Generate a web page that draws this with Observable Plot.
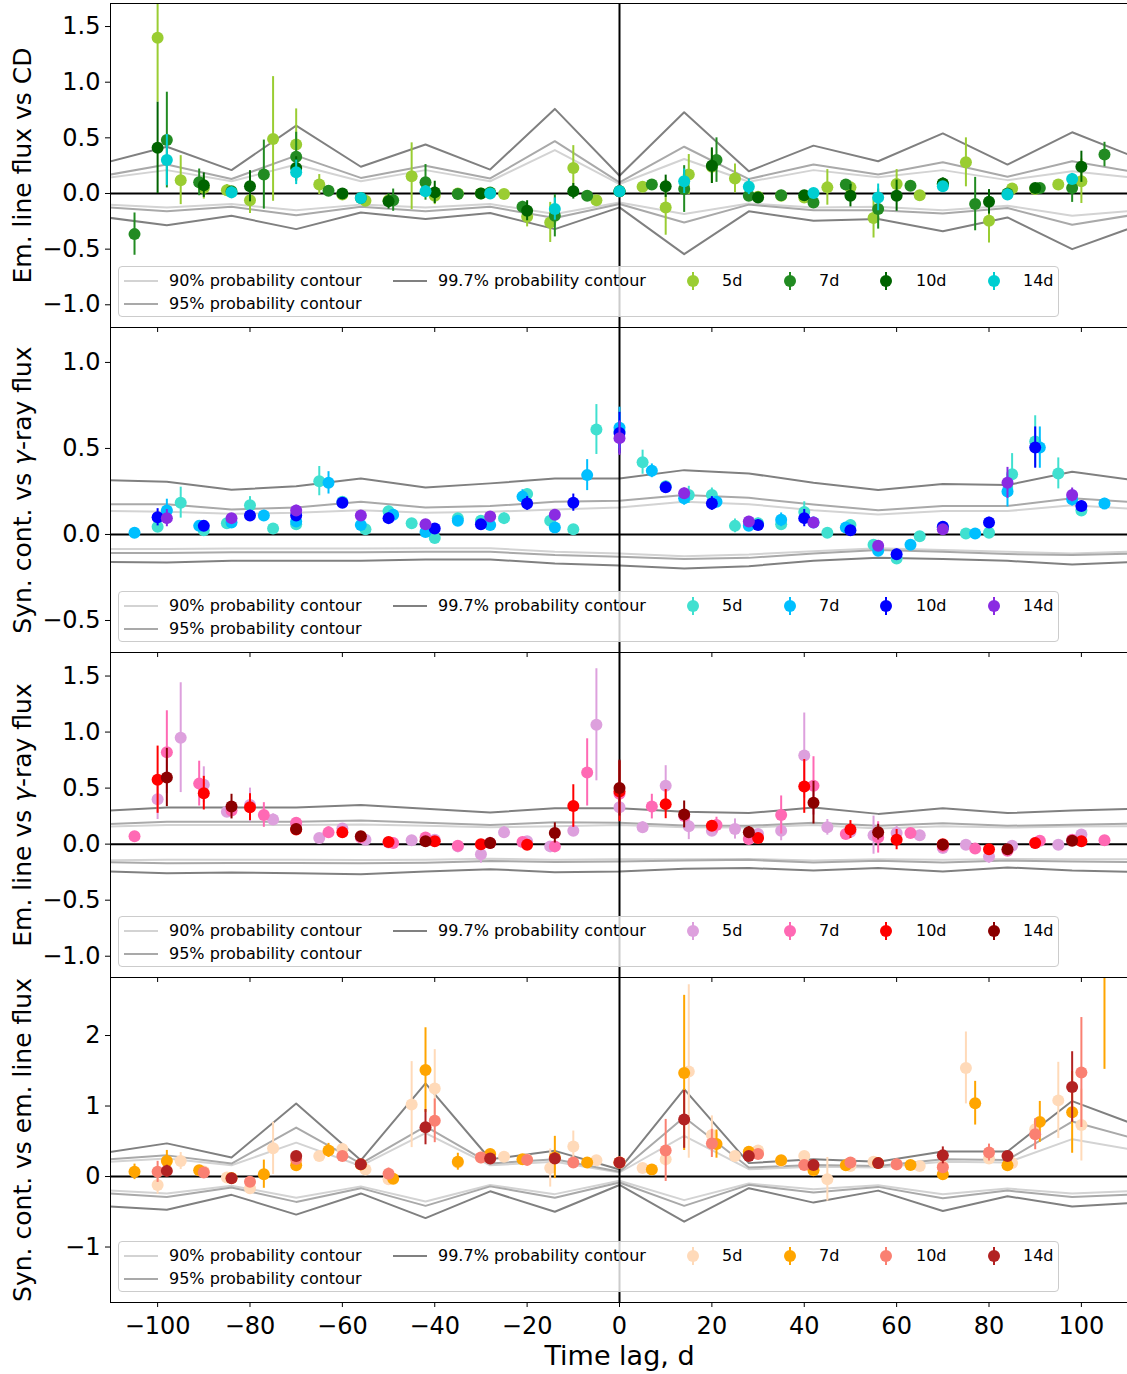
<!DOCTYPE html>
<html>
<head>
<meta charset="utf-8">
<script src="https://cdn.jsdelivr.net/npm/d3@7"></script>
<script src="https://cdn.jsdelivr.net/npm/@observablehq/plot@0.6"></script>
<style>
html, body { margin: 0; padding: 0; background: #fff; overflow: hidden; width: 1127px; height: 1374px; }
#chart { position: relative; width: 1131px; }
.panel { position: relative; width: 1131px; }
.panel > svg { display: block; }
.legend { position: absolute; left: 118px; width: 941px; height: 51px; border: 1px solid #cccccc; border-radius: 4px;
  background: rgba(255,255,255,0.8); box-sizing: border-box; font-family: "DejaVu Sans", sans-serif; font-size: 16px; color: #000; }
.legend svg { position: absolute; overflow: visible; }
.legend span { position: absolute; white-space: nowrap; transform: translateY(-50%); line-height: 1; }
</style>
</head>
<body>
<div id="chart"></div>
<script>
// ---------- categories / tick labels ----------
const lags5 = [-100,-95,-90,-85,-80,-75,-70,-65,-60,-55,-50,-45,-40,-35,-30,-25,-20,-15,-10,-5,0,5,10,15,20,25,30,35,40,45,50,55,60,65,70,75,80,85,90,95,100];
const lags7 = [-105,-98,-91,-84,-77,-70,-63,-56,-49,-42,-35,-28,-21,-14,-7,0,7,14,21,28,35,42,49,56,63,70,77,84,91,98,105];
const lags10 = [-100,-90,-80,-70,-60,-50,-40,-30,-20,-10,0,10,20,30,40,50,60,70,80,90,100];
const lags14 = [-98,-84,-70,-56,-42,-28,-14,0,14,28,42,56,70,84,98];
const contourLags = [-112,-98,-84,-70,-56,-42,-28,-14,0,14,28,42,56,70,84,98,112];
const seriesNames = ["5d","7d","10d","14d"];
const contourNames = ["90% probability contour","95% probability contour","99.7% probability contour"];
const xTicks = [-100,-80,-60,-40,-20,0,20,40,60,80,100];
const xLabel = "Time lag, d";

// ---------- panel 1: Em. line flux vs CD ----------
const p1Label = "Em. line flux vs CD";
const p1Ticks = [-1,-0.5,0,0.5,1,1.5];
const p1Colors = ["#9acd32","#228b22","#006400","#00ced1"];
const p1_5d  = [1.40,0.12,0.05,0.03,-0.06,0.49,0.44,0.08,-0.01,-0.065,-0.06,0.155,-0.02,0.0,0.0,-0.005,-0.21,-0.26,0.23,-0.06,0.02,0.06,-0.125,0.17,0.24,0.135,-0.03,-0.02,-0.035,0.055,0.055,-0.22,0.085,-0.015,0.08,0.28,-0.245,0.045,0.04,0.08,0.11];
const p1_5dE = [0.58,0.22,0.1,0.05,0.12,0.56,0.32,0.09,0.04,0.04,0.05,0.3,0.08,0.03,0.03,0.03,0.09,0.18,0.2,0.03,0.03,0.03,0.25,0.18,0.15,0.13,0.03,0.03,0.05,0.16,0.05,0.18,0.13,0.03,0.05,0.22,0.2,0.03,0.03,0.04,0.2];
const p1_7d  = [-0.365,0.48,0.10,0.02,0.17,0.33,0.025,-0.04,-0.06,0.10,-0.005,0.01,-0.12,-0.2,-0.02,0.02,0.08,0.04,0.30,-0.02,-0.015,-0.08,0.08,-0.14,0.07,0.085,-0.095,0.0,0.05,0.05,0.35];
const p1_7dE = [0.19,0.43,0.12,0.04,0.31,0.22,0.04,0.03,0.1,0.16,0.03,0.03,0.05,0.19,0.03,0.03,0.03,0.21,0.2,0.04,0.03,0.05,0.04,0.18,0.04,0.04,0.24,0.03,0.03,0.13,0.11];
const p1_10d  = [0.41,0.075,0.065,0.23,0.0,-0.07,0.01,0.0,-0.155,0.02,0.02,0.065,0.25,-0.035,-0.015,-0.02,-0.02,0.09,-0.075,0.05,0.24];
const p1_10dE = [0.41,0.11,0.14,0.1,0.03,0.07,0.1,0.03,0.09,0.07,0.04,0.1,0.16,0.03,0.04,0.1,0.14,0.05,0.11,0.03,0.14];
const p1_14d  = [0.30,0.01,0.19,-0.04,0.02,0.0,-0.14,0.02,0.11,0.06,0.005,-0.035,0.065,-0.01,0.13];
const p1_14dE = [0.23,0.05,0.11,0.04,0.05,0.03,0.1,0.04,0.11,0.07,0.04,0.12,0.04,0.05,0.05];
const p1_c90hi  = [0.135,0.21,0.11,0.26,0.11,0.21,0.11,0.39,0.085,0.31,0.105,0.21,0.145,0.21,0.12,0.20,0.14];
const p1_c95hi  = [0.157,0.26,0.13,0.34,0.14,0.25,0.135,0.47,0.10,0.42,0.13,0.26,0.17,0.28,0.15,0.29,0.19];
const p1_c997hi = [0.27,0.42,0.21,0.61,0.24,0.44,0.215,0.76,0.16,0.73,0.20,0.43,0.29,0.54,0.26,0.55,0.32];
const p1_c90lo  = [-0.097,-0.125,-0.095,-0.15,-0.10,-0.125,-0.095,-0.185,-0.08,-0.185,-0.09,-0.125,-0.12,-0.15,-0.11,-0.20,-0.153];
const p1_c95lo  = [-0.12,-0.16,-0.12,-0.195,-0.12,-0.16,-0.12,-0.22,-0.095,-0.26,-0.10,-0.15,-0.15,-0.18,-0.13,-0.28,-0.187];
const p1_c997lo = [-0.21,-0.285,-0.20,-0.32,-0.17,-0.23,-0.175,-0.32,-0.125,-0.545,-0.16,-0.245,-0.23,-0.34,-0.215,-0.50,-0.29];

// ---------- panel 2: Syn. cont. vs gamma-ray flux ----------
const p2Label = "Syn. cont. vs γ-ray flux";
const p2Ticks = [-0.5,0,0.5,1];
const p2Colors = ["#40e0d0","#00bfff","#0000ff","#8a2be2"];
const p2_5d  = [0.045,0.185,0.025,0.065,0.17,0.035,0.06,0.31,0.19,0.03,0.135,0.065,-0.02,0.095,0.08,0.095,0.235,0.08,0.03,0.61,0.60,0.42,0.28,0.23,0.23,0.05,0.065,0.06,0.13,0.01,0.055,-0.06,-0.14,-0.01,0.04,0.005,0.01,0.35,0.54,0.355,0.14];
const p2_5dE = [0.02,0.09,0.02,0.02,0.05,0.02,0.02,0.085,0.03,0.02,0.03,0.02,0.02,0.02,0.02,0.03,0.03,0.02,0.02,0.145,0.1,0.07,0.03,0.05,0.04,0.04,0.03,0.03,0.06,0.02,0.03,0.03,0.03,0.02,0.02,0.02,0.02,0.12,0.15,0.09,0.03];
const p2_7d  = [0.01,0.14,0.05,0.07,0.11,0.075,0.30,0.055,0.115,0.015,0.08,0.055,0.22,0.04,0.345,0.62,0.37,0.21,0.19,0.05,0.085,0.07,0.04,-0.095,-0.06,0.04,0.005,0.25,0.505,0.205,0.18];
const p2_7dE = [0.02,0.065,0.02,0.02,0.03,0.03,0.065,0.02,0.03,0.02,0.02,0.02,0.04,0.02,0.09,0.12,0.04,0.04,0.03,0.03,0.04,0.03,0.03,0.03,0.03,0.02,0.02,0.09,0.12,0.04,0.03];
const p2_10d  = [0.10,0.05,0.11,0.11,0.185,0.095,0.035,0.06,0.18,0.185,0.59,0.275,0.18,0.055,0.095,0.025,-0.115,0.045,0.07,0.505,0.165];
const p2_10dE = [0.05,0.02,0.03,0.03,0.03,0.03,0.02,0.02,0.04,0.05,0.12,0.03,0.04,0.03,0.05,0.02,0.03,0.02,0.03,0.12,0.03];
const p2_14d  = [0.095,0.095,0.14,0.11,0.06,0.105,0.115,0.56,0.24,0.075,0.07,-0.065,0.03,0.30,0.23];
const p2_14dE = [0.05,0.02,0.03,0.02,0.02,0.02,0.02,0.1,0.03,0.03,0.03,0.02,0.02,0.09,0.04];
const p2_c90hi  = [0.137,0.132,0.12,0.126,0.141,0.126,0.132,0.145,0.157,0.19,0.176,0.141,0.116,0.136,0.136,0.17,0.147];
const p2_c95hi  = [0.176,0.176,0.145,0.157,0.19,0.157,0.165,0.19,0.196,0.23,0.213,0.174,0.141,0.165,0.165,0.21,0.187];
const p2_c997hi = [0.317,0.306,0.26,0.28,0.325,0.273,0.297,0.325,0.325,0.374,0.355,0.30,0.258,0.293,0.287,0.364,0.313];
const p2_c90lo  = [-0.085,-0.085,-0.082,-0.082,-0.082,-0.08,-0.08,-0.10,-0.11,-0.126,-0.116,-0.097,-0.08,-0.09,-0.10,-0.11,-0.098];
const p2_c95lo  = [-0.107,-0.107,-0.103,-0.103,-0.103,-0.1,-0.1,-0.12,-0.13,-0.143,-0.136,-0.11,-0.09,-0.10,-0.114,-0.12,-0.11];
const p2_c997lo = [-0.16,-0.163,-0.153,-0.153,-0.153,-0.145,-0.145,-0.169,-0.18,-0.198,-0.184,-0.153,-0.136,-0.143,-0.153,-0.174,-0.16];

// ---------- panel 3: Em. line vs gamma-ray flux ----------
const p3Label = "Em. line vs γ-ray flux";
const p3Ticks = [-1,-0.5,0,0.5,1,1.5];
const p3Colors = ["#dda0dd","#ff69b4","#ff0000","#8b0000"];
const p3_5d  = [0.40,0.95,0.53,0.29,0.35,0.22,0.18,0.055,0.14,0.04,0.015,0.035,0.04,-0.02,-0.09,0.105,0.025,-0.02,0.12,1.065,0.33,0.15,0.52,0.16,0.12,0.135,0.09,0.12,0.79,0.15,0.11,0.08,0.10,0.08,-0.035,-0.005,-0.11,-0.015,0.01,-0.005,0.085];
const p3_5dE = [0.18,0.49,0.16,0.05,0.15,0.05,0.03,0.03,0.03,0.03,0.03,0.03,0.03,0.03,0.08,0.05,0.03,0.03,0.05,0.5,0.08,0.05,0.18,0.12,0.04,0.09,0.03,0.09,0.38,0.07,0.03,0.17,0.06,0.03,0.03,0.03,0.06,0.04,0.03,0.03,0.03];
const p3_7d  = [0.07,0.82,0.54,0.30,0.26,0.19,0.105,0.06,0.01,0.06,-0.015,0.01,0.02,-0.02,0.64,0.45,0.335,0.25,0.17,0.045,0.26,0.52,0.09,0.06,0.10,-0.02,-0.04,-0.06,0.03,0.04,0.035];
const p3_7dE = [0.03,0.37,0.2,0.04,0.11,0.03,0.05,0.03,0.03,0.03,0.03,0.03,0.03,0.03,0.3,0.1,0.11,0.05,0.07,0.03,0.17,0.26,0.03,0.14,0.03,0.03,0.03,0.03,0.03,0.03,0.03];
const p3_10d  = [0.575,0.455,0.33,0.13,0.105,0.02,0.025,0.0,-0.005,0.34,0.47,0.357,0.165,0.055,0.515,0.13,0.04,0.0,-0.045,0.01,0.025];
const p3_10dE = [0.3,0.15,0.12,0.03,0.03,0.03,0.03,0.03,0.03,0.19,0.27,0.13,0.04,0.03,0.24,0.08,0.09,0.03,0.04,0.03,0.03];
const p3_14d  = [0.595,0.335,0.135,0.07,0.025,0.01,0.10,0.50,0.265,0.107,0.37,0.107,-0.005,-0.045,0.03];
const p3_14dE = [0.26,0.11,0.04,0.03,0.03,0.05,0.09,0.25,0.12,0.05,0.19,0.07,0.03,0.03,0.03];
const p3_c90hi  = [0.155,0.17,0.17,0.17,0.175,0.165,0.15,0.16,0.17,0.15,0.148,0.17,0.14,0.16,0.148,0.157,0.16];
const p3_c95hi  = [0.177,0.20,0.20,0.20,0.21,0.19,0.17,0.195,0.19,0.167,0.164,0.19,0.164,0.187,0.164,0.173,0.183];
const p3_c997hi = [0.296,0.327,0.327,0.327,0.35,0.315,0.283,0.32,0.32,0.29,0.277,0.327,0.27,0.32,0.277,0.30,0.317];
const p3_c90lo  = [-0.145,-0.14,-0.14,-0.14,-0.142,-0.14,-0.13,-0.14,-0.134,-0.134,-0.132,-0.145,-0.134,-0.14,-0.132,-0.134,-0.134];
const p3_c95lo  = [-0.16,-0.17,-0.168,-0.168,-0.17,-0.165,-0.15,-0.16,-0.155,-0.146,-0.14,-0.164,-0.149,-0.164,-0.146,-0.155,-0.16];
const p3_c997lo = [-0.243,-0.26,-0.253,-0.26,-0.268,-0.245,-0.223,-0.25,-0.245,-0.22,-0.214,-0.235,-0.214,-0.245,-0.208,-0.235,-0.248];

// ---------- panel 4: Syn. cont. vs em. line flux ----------
const p4Label = "Syn. cont. vs em. line flux";
const p4Ticks = [-1,0,1,2];
const p4Colors = ["#ffdab9","#ffa500","#fa8072","#b22222"];
const p4_5d  = [-0.12,0.22,0.07,-0.015,-0.165,0.40,0.22,0.29,0.39,0.10,-0.04,1.02,1.25,0.2,0.27,0.28,0.24,0.12,0.425,0.23,0.2,0.12,0.245,1.49,0.59,0.29,0.37,0.22,0.29,-0.04,0.15,0.21,0.17,0.15,0.15,1.54,0.255,0.19,0.67,1.08,0.73];
const p4_5dE = [0.13,0.12,0.05,0.05,0.05,0.37,0.05,0.05,0.05,0.05,0.05,0.61,0.55,0.05,0.05,0.05,0.05,0.27,0.22,0.05,0.05,0.05,0.1,1.23,0.27,0.05,0.05,0.05,0.05,0.31,0.05,0.05,0.05,0.05,0.05,0.51,0.05,0.05,0.1,0.54,0.51];
const p4_7d  = [0.066,0.22,0.09,-0.02,0.033,0.16,0.37,0.17,-0.03,1.51,0.21,0.32,0.245,0.27,0.2,0.2,0.10,1.47,0.46,0.35,0.23,0.09,0.16,0.19,0.165,0.033,1.04,0.16,0.775,0.91,3.0];
const p4_7dE = [0.11,0.15,0.05,0.05,0.2,0.05,0.1,0.05,0.05,0.6,0.12,0.05,0.05,0.3,0.05,0.05,0.05,1.1,0.2,0.05,0.05,0.05,0.05,0.05,0.05,0.05,0.31,0.05,0.29,0.58,1.48];
const p4_10d  = [0.066,0.057,-0.075,0.25,0.29,0.04,0.79,0.27,0.236,0.2,0.2,0.37,0.47,0.32,0.165,0.2,0.175,0.13,0.34,0.60,1.475];
const p4_10dE = [0.15,0.05,0.05,0.05,0.05,0.08,0.31,0.05,0.05,0.05,0.05,0.44,0.2,0.05,0.05,0.05,0.05,0.05,0.12,0.22,0.78];
const p4_14d  = [0.08,-0.024,0.29,0.175,0.70,0.255,0.255,0.2,0.81,0.29,0.165,0.19,0.30,0.29,1.27];
const p4_14dE = [0.08,0.05,0.06,0.05,0.25,0.05,0.08,0.05,0.41,0.05,0.05,0.05,0.12,0.05,0.5];
const p4_c90hi  = [0.203,0.255,0.16,0.48,0.15,0.615,0.16,0.21,0.057,0.577,0.104,0.137,0.128,0.208,0.2,0.53,0.37];
const p4_c95hi  = [0.238,0.30,0.184,0.695,0.184,0.71,0.184,0.246,0.068,0.84,0.128,0.165,0.15,0.246,0.236,0.78,0.53];
const p4_c997hi = [0.33,0.47,0.27,1.035,0.23,1.32,0.245,0.364,0.1,1.24,0.19,0.245,0.21,0.355,0.355,1.07,0.726];
const p4_c90lo  = [-0.194,-0.24,-0.13,-0.30,-0.14,-0.355,-0.12,-0.25,-0.06,-0.335,-0.10,-0.18,-0.123,-0.25,-0.17,-0.24,-0.205];
const p4_c95lo  = [-0.233,-0.29,-0.156,-0.36,-0.165,-0.416,-0.14,-0.30,-0.085,-0.416,-0.118,-0.227,-0.147,-0.307,-0.20,-0.29,-0.255];
const p4_c997lo = [-0.419,-0.47,-0.26,-0.54,-0.24,-0.59,-0.21,-0.50,-0.12,-0.64,-0.165,-0.37,-0.20,-0.49,-0.28,-0.425,-0.372];

// ---------- assemble ----------
const seriesLags = [lags5, lags7, lags10, lags14];
const contourColors = ["#d3d3d3", "#a9a9a9", "#808080"];

const panels = [
  {label: p1Label, ticks: p1Ticks, fmt: ".1f", colors: p1Colors, domain: [-1.204, 1.707],
   series: [[p1_5d,p1_5dE],[p1_7d,p1_7dE],[p1_10d,p1_10dE],[p1_14d,p1_14dE]],
   contours: [[p1_c90hi,p1_c90lo],[p1_c95hi,p1_c95lo],[p1_c997hi,p1_c997lo]]},
  {label: p2Label, ticks: p2Ticks, fmt: ".1f", colors: p2Colors, domain: [-0.686, 1.203],
   series: [[p2_5d,p2_5dE],[p2_7d,p2_7dE],[p2_10d,p2_10dE],[p2_14d,p2_14dE]],
   contours: [[p2_c90hi,p2_c90lo],[p2_c95hi,p2_c95lo],[p2_c997hi,p2_c997lo]]},
  {label: p3Label, ticks: p3Ticks, fmt: ".1f", colors: p3Colors, domain: [-1.19, 1.71],
   series: [[p3_5d,p3_5dE],[p3_7d,p3_7dE],[p3_10d,p3_10dE],[p3_14d,p3_14dE]],
   contours: [[p3_c90hi,p3_c90lo],[p3_c95hi,p3_c95lo],[p3_c997hi,p3_c997lo]]},
  {label: p4Label, ticks: p4Ticks, fmt: "d", colors: p4Colors, domain: [-1.787, 2.823],
   series: [[p4_5d,p4_5dE],[p4_7d,p4_7dE],[p4_10d,p4_10dE],[p4_14d,p4_14dE]],
   contours: [[p4_c90hi,p4_c90lo],[p4_c95hi,p4_c95lo],[p4_c997hi,p4_c997lo]]}
];

const svgNS = "http://www.w3.org/2000/svg";

function makePanel(p, i) {
  const isLast = i === panels.length - 1;
  const marginTop = i === 0 ? 3 : 0;
  const marginBottom = isLast ? 72 : 0;
  const height = 325 + marginTop + marginBottom - (i === 0 ? 1 : 0);
  const marks = [];
  p.contours.forEach(([hi, lo], k) => {
    for (const arr of [hi, lo]) {
      const rows = contourLags.map((l, j) => ({lag: l, v: arr[j]}));
      marks.push(Plot.line(rows, {x: "lag", y: "v", stroke: contourColors[k], strokeWidth: 2, clip: true}));
    }
  });
  marks.push(Plot.ruleY([0], {stroke: "black", strokeWidth: 2}));
  marks.push(Plot.ruleX([0], {stroke: "black", strokeWidth: 2}));
  p.series.forEach(([vals, errs], k) => {
    const rows = seriesLags[k].map((l, j) => ({lag: l, v: vals[j], e: errs[j]}));
    marks.push(Plot.ruleX(rows, {x: "lag", y1: d => d.v - d.e, y2: d => d.v + d.e, stroke: p.colors[k], strokeWidth: 2, clip: true}));
    marks.push(Plot.dot(rows, {x: "lag", y: "v", r: 6, fill: p.colors[k], clip: true}));
  });
  marks.push(Plot.frame({stroke: "black", strokeWidth: 1}));
  marks.push(Plot.axisY({ticks: p.ticks, tickFormat: d3.format(p.fmt), tickSize: 5, tickPadding: 5, fontSize: 24, label: null}));
  marks.push(Plot.axisX({ticks: xTicks, tickFormat: isLast ? d3.format("d") : () => "", tickSize: 5, tickPadding: 9, fontSize: 24, label: null}));
  marks.push(Plot.text([p.label], {text: d => d, frameAnchor: "left", dx: -88, rotate: -90, textAnchor: "middle", lineAnchor: "middle", fontSize: 25, fill: "black"}));
  if (isLast) marks.push(Plot.text([xLabel], {text: d => d, frameAnchor: "bottom", dy: 54, textAnchor: "middle", lineAnchor: "middle", fontSize: 27, fill: "black"}));
  const svg = Plot.plot({
    width: 1131, height, marginLeft: 110, marginRight: 3, marginTop, marginBottom,
    x: {domain: [-110.2, 110.2], label: null},
    y: {domain: p.domain, label: null},
    style: {fontFamily: "DejaVu Sans, sans-serif", background: "transparent", overflow: "visible", color: "black"},
    marks
  });
  // render the gamma symbol in italic, as the reference's math text does
  svg.querySelectorAll("text").forEach(t => {
    if (t.children.length === 0 && t.textContent.includes("γ")) {
      const parts = t.textContent.split("γ");
      t.textContent = "";
      parts.forEach((s, j) => {
        if (j > 0) {
          const g = document.createElementNS(svgNS, "tspan");
          g.setAttribute("font-style", "italic");
          g.textContent = "γ";
          t.appendChild(g);
        }
        if (s) t.appendChild(document.createTextNode(s));
      });
    }
  });
  return svg;
}

function addLegend(container, top, colors) {
  const box = document.createElement("div");
  box.className = "legend";
  box.style.top = top + "px";
  const rowY = [13.5, 36.5];
  const items = [
    {type: "line", color: contourColors[0], label: contourNames[0], sx: 5, tx: 50, row: 0},
    {type: "line", color: contourColors[1], label: contourNames[1], sx: 5, tx: 50, row: 1},
    {type: "line", color: contourColors[2], label: contourNames[2], sx: 274, tx: 319, row: 0},
    {type: "dot", color: colors[0], label: seriesNames[0], sx: 574, tx: 603, row: 0},
    {type: "dot", color: colors[1], label: seriesNames[1], sx: 671, tx: 700, row: 0},
    {type: "dot", color: colors[2], label: seriesNames[2], sx: 767, tx: 797, row: 0},
    {type: "dot", color: colors[3], label: seriesNames[3], sx: 875, tx: 904, row: 0}
  ];
  for (const it of items) {
    const sw = document.createElementNS(svgNS, "svg");
    const y = rowY[it.row];
    if (it.type === "line") {
      sw.setAttribute("width", 34); sw.setAttribute("height", 4);
      sw.style.left = it.sx + "px"; sw.style.top = (y - 2) + "px";
      const ln = document.createElementNS(svgNS, "line");
      ln.setAttribute("x1", 0); ln.setAttribute("x2", 34); ln.setAttribute("y1", 2); ln.setAttribute("y2", 2);
      ln.setAttribute("stroke", it.color); ln.setAttribute("stroke-width", 2);
      sw.appendChild(ln);
    } else {
      sw.setAttribute("width", 16); sw.setAttribute("height", 20);
      sw.style.left = (it.sx - 8) + "px"; sw.style.top = (y - 10) + "px";
      const ln = document.createElementNS(svgNS, "line");
      ln.setAttribute("x1", 8); ln.setAttribute("x2", 8); ln.setAttribute("y1", 1); ln.setAttribute("y2", 19);
      ln.setAttribute("stroke", it.color); ln.setAttribute("stroke-width", 2);
      const c = document.createElementNS(svgNS, "circle");
      c.setAttribute("cx", 8); c.setAttribute("cy", 10); c.setAttribute("r", 6); c.setAttribute("fill", it.color);
      sw.appendChild(ln); sw.appendChild(c);
    }
    box.appendChild(sw);
    const t = document.createElement("span");
    t.textContent = it.label;
    t.style.left = it.tx + "px"; t.style.top = y + "px";
    box.appendChild(t);
  }
  container.appendChild(box);
}

const chart = document.getElementById("chart");
panels.forEach((p, i) => {
  const div = document.createElement("div");
  div.className = "panel";
  div.style.zIndex = String(10 - i);
  div.appendChild(makePanel(p, i));
  addLegend(div, i === 0 ? 266 : 264, p.colors);
  chart.appendChild(div);
});
</script>
</body>
</html>
